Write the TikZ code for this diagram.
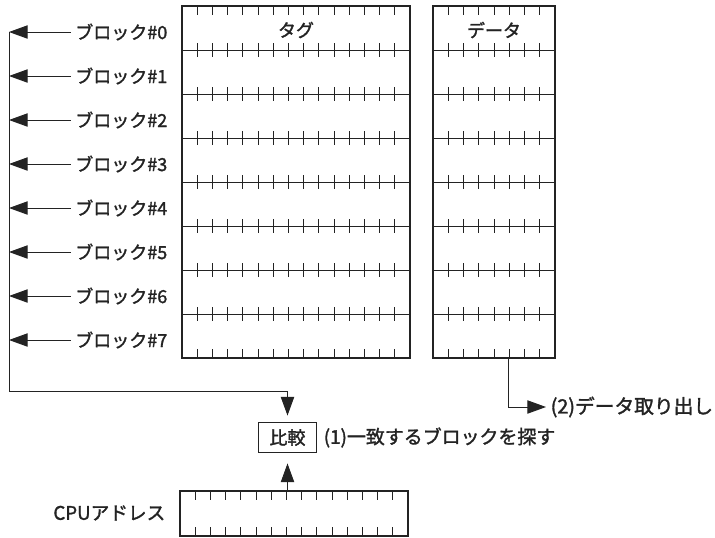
\documentclass[tikz,border=0pt]{standalone}
\usepackage{fontspec}
\setmainfont{Noto Sans CJK JP}[FakeBold=1.6]
\usetikzlibrary{arrows.meta}
\definecolor{inkGray}{RGB}{35,35,35}

\begin{document}
\begin{tikzpicture}[x=0.75pt, y=-0.75pt, text=inkGray, draw=inkGray,
		font=\fontsize{13.5}{15}\selectfont,
		frame/.style={draw=inkGray, line width=1.1pt},
		rule/.style={draw=inkGray, line width=0.6pt},
		flow/.style={draw=inkGray, line width=0.7pt, -{Triangle[length=14pt,width=10pt]}}]
		\useasboundingbox (0,0) rectangle (715,537);
		
		% Row lines
		\foreach \k in {1,...,7} {
			\draw[rule] (182,{6+44*\k}) -- (410,{6+44*\k});
			\draw[rule] (433,{6+44*\k}) -- (555,{6+44*\k});
		}
		
		% Ticks of the tag array
		\foreach \i in {1,...,14} {
			\draw[rule] ({182+15.2*\i},6) -- ++(0,9);
			\draw[rule] ({182+15.2*\i},358) -- ++(0,-9);
			\foreach \k in {1,...,7}
				\draw[rule] ({182+15.2*\i},{6+44*\k-7}) -- ++(0,14);
		}
		
		% Ticks of the data array
		\foreach \i in {1,...,7} {
			\draw[rule] ({433+15.25*\i},6) -- ++(0,9);
			\draw[rule] ({433+15.25*\i},358) -- ++(0,-9);
			\foreach \k in {1,...,7}
				\draw[rule] ({433+15.25*\i},{6+44*\k-7}) -- ++(0,14);
		}
		
		% Array frames
		\draw[frame] (182,6) rectangle (410,358);
		\draw[frame] (433,6) rectangle (555,358);
		\node (tagName) at (296,30) {タグ};
		\node (dataName) at (494,30) {データ};
		
		% Block names
		\foreach \k in {0,...,7} {
			\node (b\k) at (172,{32+44*\k}) [anchor=east] {ブロック\#\k};
			\coordinate (l\k) at (9,{32+44*\k});
			\draw[flow] (b\k) -- (l\k);
		}
		
		% Compare
		\node (cmp) at (287.5,437.5) [draw=inkGray, line width=0.9pt, minimum width=43pt, minimum height=22pt, inner sep=0pt] {比較};
		\node (find) at (319,437.5) [anchor=west, font=\fontsize{14.2}{16}\selectfont] {(1)一致するブロックを探す};
		\coordinate (turn) at (9,391);
		\draw[flow, shorten >=5pt] (l0) -- (turn) -| (cmp);
		
		% CPU address
		\foreach \i in {1,...,14} {
			\draw[rule] ({180+15.2*\i},491) -- ++(0,9);
			\draw[rule] ({180+15.2*\i},536) -- ++(0,-9);
		}
		\draw[frame] (180,491) rectangle (408,536);
		\node (cpuName) at (170,513) [anchor=east, font=\fontsize{14}{16}\selectfont] {CPUアドレス};
		\coordinate (cpuTop) at (287.5,491);
		\draw[flow, shorten >=8pt] (cpuTop) -- (cmp);
		
		% Data out
		\coordinate (dout) at (508.7,358);
		\node (take) at (546,407) [anchor=west, font=\fontsize{14.8}{16}\selectfont] {(2)データ取り出し};
		\draw[flow] (dout) |- (take);
	\end{tikzpicture}
\end{document}
